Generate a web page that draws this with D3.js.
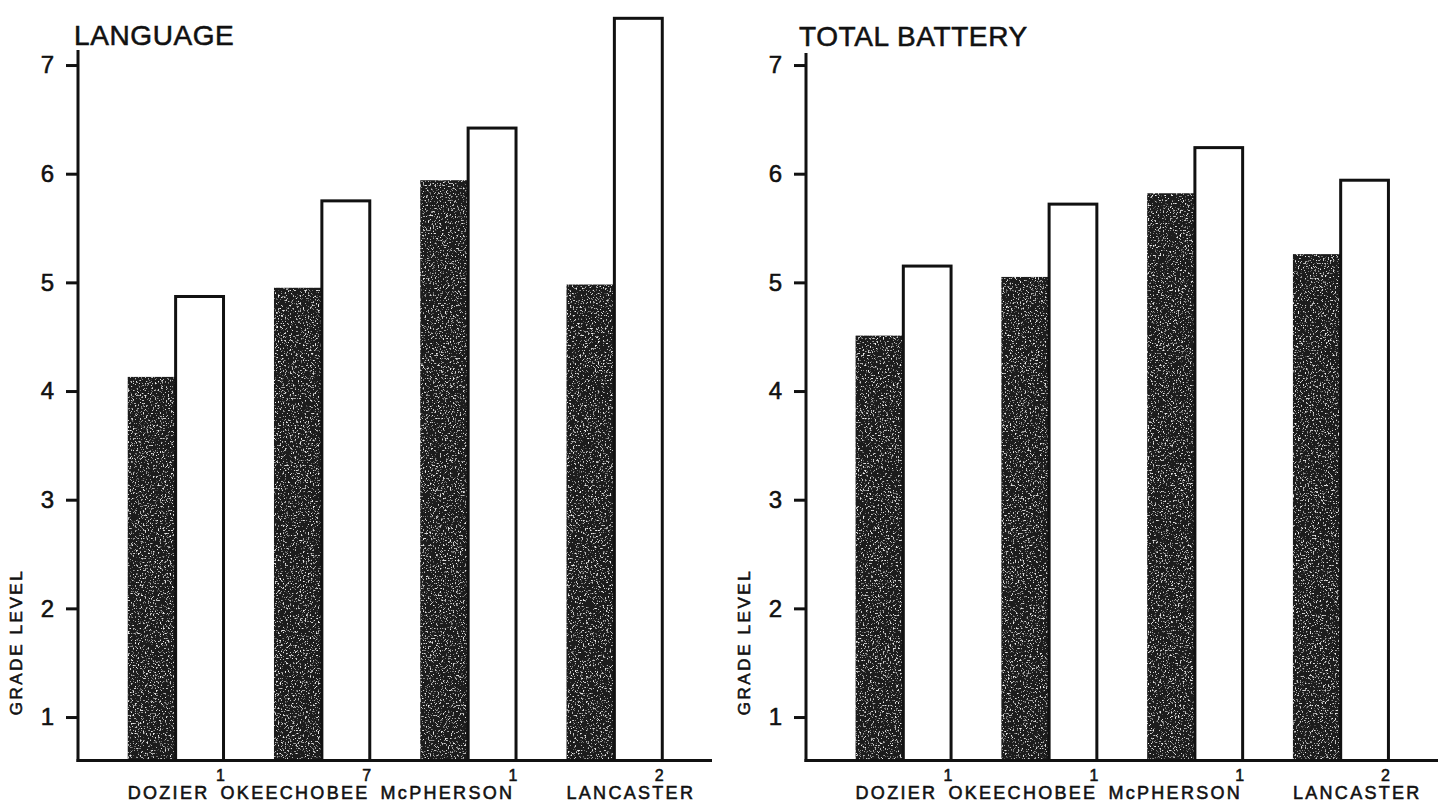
<!DOCTYPE html>
<html>
<head>
<meta charset="utf-8">
<script src="https://cdn.jsdelivr.net/npm/d3@7"></script>
<style>
  html, body { margin: 0; padding: 0; background: #fff; }
  svg { display: block; }
  text { font-family: "Liberation Sans", Arial, Helvetica, sans-serif; fill: #111; stroke: #111; stroke-width: 0.55px; }
</style>
</head>
<body>
<svg id="chart" width="1438" height="811"></svg>
<script>
// ---- data ----
const categories = ["DOZIER", "OKEECHOBEE", "McPHERSON", "LANCASTER"];
const languagePre  = [4.13, 4.95, 5.94, 4.98];   // dark bars
const languagePost = [4.87, 5.75, 6.42, 7.43];   // white bars
const batteryPre   = [4.51, 5.05, 5.82, 5.26];
const batteryPost  = [5.15, 5.72, 6.24, 5.94];
const languageNotes = ["1", "7", "1", "2"];
const batteryNotes  = ["1", "1", "1", "2"];
const tickValues = [1, 2, 3, 4, 5, 6, 7];
const titles = ["LANGUAGE", "TOTAL BATTERY"];
const yAxisTitle = "GRADE LEVEL";

// ---- drawing ----
const svg = d3.select("#chart");
const defs = svg.append("defs");
const f = defs.append("filter").attr("id", "grain")
  .attr("x", 0).attr("y", 0).attr("width", 1).attr("height", 1);
f.append("feTurbulence").attr("type", "fractalNoise").attr("baseFrequency", 0.6)
  .attr("numOctaves", 2).attr("seed", 7).attr("result", "noise");
f.append("feColorMatrix").attr("in", "noise").attr("type", "matrix")
  .attr("values", "0 0 0 0 0.85  0 0 0 0 0.85  0 0 0 0 0.85  6 0 0 0 -3.55")
  .attr("result", "specks");
f.append("feComposite").attr("in", "specks").attr("in2", "SourceGraphic")
  .attr("operator", "in").attr("result", "clipped");
const fm = f.append("feMerge");
fm.append("feMergeNode").attr("in", "SourceGraphic");
fm.append("feMergeNode").attr("in", "clipped");

const panels = [
  { title: titles[0], pre: languagePre, post: languagePost, notes: languageNotes,
    x0: 78, x1: 712, axisTop: 50, titleX: 74, titleY: 45, gradeX: 22 },
  { title: titles[1], pre: batteryPre, post: batteryPost, notes: batteryNotes,
    x0: 806, x1: 1438, axisTop: 53, titleX: 799, titleY: 46, gradeX: 750 }
];

const y = d3.scaleLinear().domain([0.6, 7.5]).range([760.5, 10.7]);
const baseY = y(0.6);

panels.forEach(p => {
  const g = svg.append("g");
  const x = d3.scaleBand().domain(categories).range([p.x0, p.x1])
    .paddingInner(0.345).paddingOuter(0.34);
  const sub = d3.scaleBand().domain(["pre", "post"]).range([0, x.bandwidth()]);

  const rows = categories.map((c, i) => ({ c, pre: p.pre[i], post: p.post[i], note: p.notes[i] }));

  // dark bars
  g.selectAll("rect.pre").data(rows).join("rect").attr("class", "pre")
    .attr("x", d => x(d.c) + sub("pre"))
    .attr("width", sub.bandwidth() + 0.5)
    .attr("y", d => y(d.pre))
    .attr("height", d => baseY - y(d.pre))
    .attr("fill", "#1d1d1d")
    .attr("filter", "url(#grain)");

  // white bars
  g.selectAll("rect.post").data(rows).join("rect").attr("class", "post")
    .attr("x", d => x(d.c) + sub("post"))
    .attr("width", sub.bandwidth())
    .attr("y", d => y(d.post))
    .attr("height", d => baseY - y(d.post))
    .attr("fill", "#fff")
    .attr("stroke", "#111")
    .attr("stroke-width", 3);

  // y axis
  const yAxis = d3.axisLeft(y).tickValues(tickValues).tickSize(12).tickPadding(12)
    .tickFormat(d3.format("d"));
  const ya = g.append("g").attr("transform", `translate(${p.x0},0)`).call(yAxis);
  ya.select(".domain").remove();
  ya.selectAll(".tick line").attr("stroke", "#111").attr("stroke-width", 3);
  ya.selectAll(".tick text").attr("font-size", 24).attr("fill", "#111")
    .style("font-family", "'Liberation Sans', Arial, sans-serif");
  g.append("line").attr("x1", p.x0).attr("x2", p.x0).attr("y1", p.axisTop).attr("y2", baseY + 1.5)
    .attr("stroke", "#111").attr("stroke-width", 3);

  // x baseline
  g.append("line").attr("x1", p.x0 - 1.5).attr("x2", p.x1).attr("y1", baseY).attr("y2", baseY)
    .attr("stroke", "#111").attr("stroke-width", 3);

  // footnote numerals at right edge of white bars
  g.selectAll("text.note").data(rows).join("text").attr("class", "note")
    .attr("x", d => x(d.c) + x.bandwidth() - 3)
    .attr("y", 781)
    .attr("text-anchor", "middle")
    .attr("font-size", 16)
    .text(d => d.note);

  // category labels: first three flow as a typed line, last one sits under its group
  let prevEnd = null;
  rows.forEach((d, i) => {
    const last = i === rows.length - 1;
    const lx = (prevEnd === null || last) ? x(d.c) : prevEnd + 11;
    const t = g.append("text").attr("x", lx).attr("y", 799)
      .attr("font-size", 18).attr("letter-spacing", 2.3).text(d.c);
    prevEnd = lx + t.node().getComputedTextLength();
  });

  // title
  g.append("text").attr("x", p.titleX).attr("y", p.titleY)
    .attr("font-size", 28).attr("letter-spacing", 0.6).text(p.title);

  // y axis title
  g.append("text")
    .attr("transform", `translate(${p.gradeX},${642}) rotate(-90)`)
    .attr("text-anchor", "middle")
    .attr("font-size", 17).attr("letter-spacing", 2.6)
    .text(yAxisTitle);
});
</script>
</body>
</html>
